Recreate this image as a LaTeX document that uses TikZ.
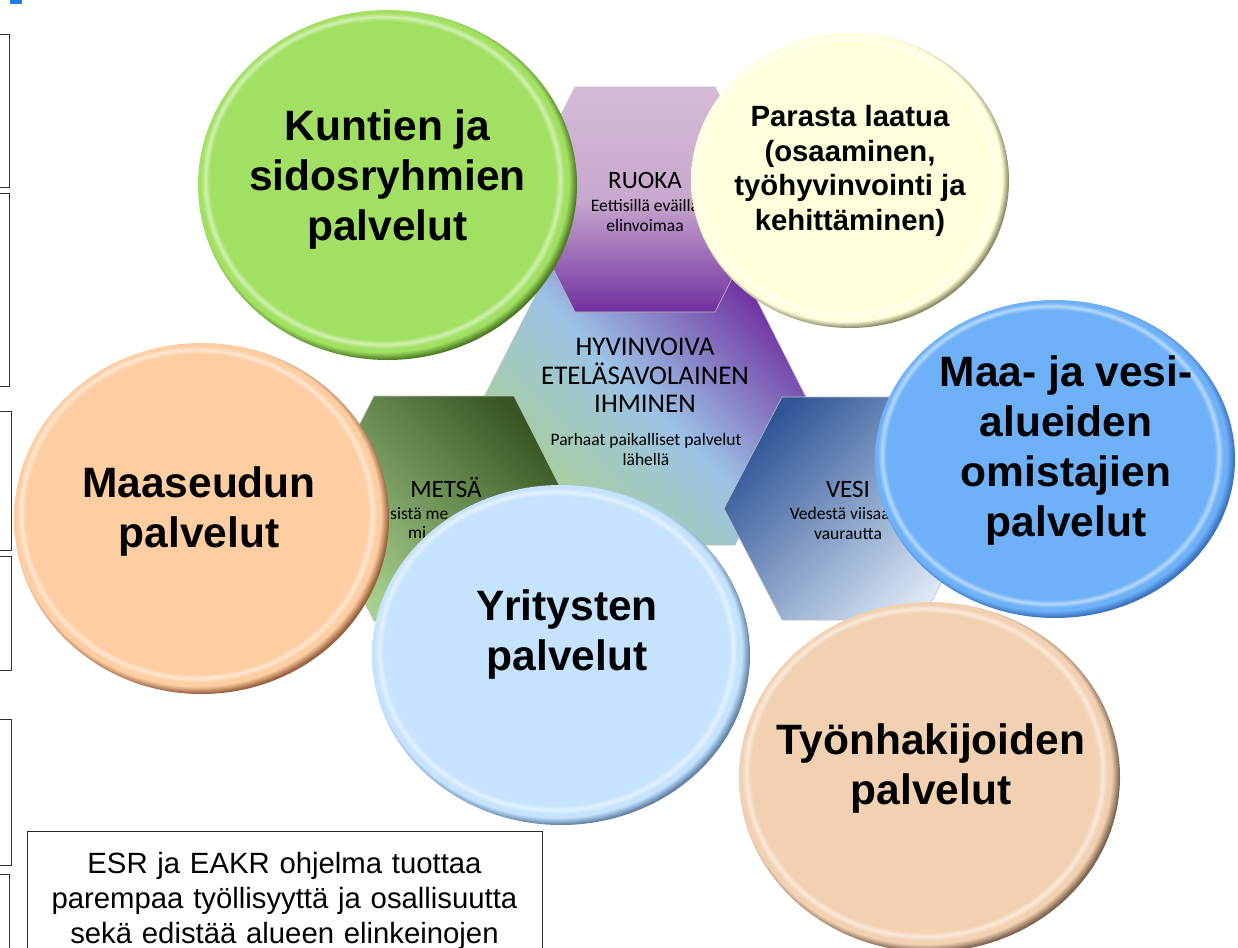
\documentclass[tikz,border=0pt]{standalone}
\usepackage{fontspec}
\setmainfont{Liberation Sans}
\newfontfamily\calibri{Carlito}
\usetikzlibrary{shapes.geometric}

\definecolor{kuntavihrea}{HTML}{A2E063}
\definecolor{kuntareuna}{HTML}{4E7D23}
\definecolor{laatukelta}{HTML}{FFFFDC}
\definecolor{laatureuna}{HTML}{8C8C66}
\definecolor{vesisininen}{HTML}{6EB1F8}
\definecolor{vesireuna}{HTML}{3A72BE}
\definecolor{maaseutupersikka}{HTML}{FECDA2}
\definecolor{maaseutureuna}{HTML}{98633E}
\definecolor{yrityssininen}{HTML}{C5E3FE}
\definecolor{yritysreuna}{HTML}{6485A8}
\definecolor{tyonhakubeige}{HTML}{F2D1B3}
\definecolor{tyonhakureuna}{HTML}{80674F}
\definecolor{ruokavaalea}{HTML}{D5BBD7}
\definecolor{ruokakeski}{HTML}{C8A8CE}
\definecolor{violetti}{HTML}{7030A0}
\definecolor{metsavaalea}{HTML}{A9D18E}
\definecolor{metsatumma}{HTML}{375623}
\definecolor{vesitumma}{HTML}{2F5597}
\definecolor{vesivaalea}{HTML}{DEEBF7}
\definecolor{ihminenvihrea}{HTML}{A9D18E}
\definecolor{ihminensininen}{HTML}{9DC3E6}
\definecolor{merkkisininen}{HTML}{1F7FE8}

\pgfdeclareradialshading[nappipohja,nappireuna]{nappi}{\pgfqpoint{-1.2bp}{1.2bp}}{%
  color(0bp)=(nappipohja); color(22.8bp)=(nappipohja);
  color(23.4bp)=(nappipohja!50!white); color(24bp)=(nappipohja);
  color(24.5bp)=(nappipohja); color(25.5bp)=(nappireuna); color(50bp)=(nappireuna)}

\tikzset{
  nappi/.style 2 args={ellipse, inner sep=0pt, shade, shading=nappi,
    /utils/exec={\colorlet{nappipohja}{#1}\colorlet{nappireuna}{#2}}},
  isoteksti/.style={align=center, inner sep=0pt, font=\bfseries\fontsize{42.5}{50}\selectfont},
  kuusikulmio/.style={draw=black!25, line width=.6pt},
  otsikko/.style={inner sep=0pt, font=\calibri\fontsize{25}{30}\selectfont},
  alateksti/.style={align=center, inner sep=0pt, font=\calibri\fontsize{17.5}{20}\selectfont}
}

\begin{document}
\begin{tikzpicture}[x=1pt,y=-1pt]
  \useasboundingbox (0,0) rectangle (1238,947);
  \clip (0,0) rectangle (1238,947);

  % laatikot vasemmassa reunassa
  \foreach \ya/\yb/\xr in {35/187/9, 193/386/9, 411/550/11, 556/670/11, 719/865/11, 874/960/9}
    \draw[black!80, line width=1pt] (-5,\ya) rectangle (\xr,\yb);
  \fill[merkkisininen] (10,0) rectangle (22,4);

  % kuusikulmiot
  \shade[kuusikulmio, top color=violetti, bottom color=ihminenvihrea, middle color=ihminensininen, shading angle=-45]
    (645,401) ++(-163,0) -- ++(73,-144) -- ++(180,0) -- ++(73,144) -- ++(-73,144) -- ++(-180,0) -- cycle;
  \shade[kuusikulmio, top color=ruokavaalea, bottom color=violetti, middle color=ruokakeski]
    (645,199.5) ++(-127,0) -- ++(57,-112.5) -- ++(140,0) -- ++(57,112.5) -- ++(-57,112.5) -- ++(-140,0) -- cycle;
  \shade[kuusikulmio, top color=metsatumma, bottom color=metsavaalea, shading angle=-45]
    (444,508.5) ++(-127,0) -- ++(57,-112.5) -- ++(140,0) -- ++(57,112.5) -- ++(-57,112.5) -- ++(-140,0) -- cycle;
  \shade[kuusikulmio, top color=vesitumma, bottom color=vesivaalea, shading angle=45]
    (852,508.5) ++(-128,0) -- ++(58,-111.5) -- ++(140,0) -- ++(58,111.5) -- ++(-58,111.5) -- ++(-140,0) -- cycle;

  \node[align=center, inner sep=0pt, font=\calibri\fontsize{27}{28.5}\selectfont] (ihminen) at (645,375.5) {HYVINVOIVA\\ETELÄSAVOLAINEN\\IHMINEN};
  \node[alateksti] (lahella) at (646,449.4) {Parhaat paikalliset palvelut\\lähellä};
  \node[otsikko] (ruoka) at (645,180) {RUOKA};
  \node[alateksti] (ruokateksti) at (645,215.4) {Eettisillä eväillä\\elinvoimaa};
  \node[otsikko] (metsa) at (446,488) {METSÄ};
  \node[alateksti, anchor=base west] (metsateksti) at (390,519.5) {sistä me};
  \node[alateksti, anchor=base west] (metsateksti2) at (408,538.5) {mi};
  \node[otsikko] (vesi) at (848,489) {VESI};
  \node[alateksti] (vesiteksti) at (848,523.4) {Vedestä viisaasti\\vaurautta};

  % palvelupallot
  \node[nappi={kuntavihrea}{kuntareuna}, minimum width=379pt, minimum height=350pt] (kunnat) at (387.5,185) {};
  \node[nappi={laatukelta}{laatureuna}, minimum width=318pt, minimum height=295pt] (laatu) at (850,180.5) {};
  \node[nappi={vesisininen}{vesireuna}, minimum width=360pt, minimum height=318pt] (maavesi) at (1055,459) {};
  \node[nappi={maaseutupersikka}{maaseutureuna}, minimum width=375pt, minimum height=351pt] (maaseutu) at (201.5,518.5) {};
  \node[nappi={yrityssininen}{yritysreuna}, minimum width=378pt, minimum height=340pt] (yritykset) at (561,655) {};
  \node[nappi={tyonhakubeige}{tyonhakureuna}, minimum width=381pt, minimum height=350pt] (tyonhakijat) at (929.5,777) {};

  \node[isoteksti] at (kunnat) [yshift=5.7pt] {Kuntien ja\\sidosryhmien\\palvelut};
  \node[align=center, inner sep=0pt, font=\bfseries\fontsize{29.3}{34.7}\selectfont] at (850,171) {Parasta laatua\\(osaaminen,\\työhyvinvointi ja\\kehittäminen)};
  \node[isoteksti] at (1066,450.8) {Maa- ja vesi-\\alueiden\\omistajien\\palvelut};
  \node[isoteksti] at (199,511.3) {Maaseudun\\palvelut};
  \node[isoteksti] at (567,634.8) {Yritysten\\palvelut};
  \node[isoteksti] at (931,768.8) {Työnhakijoiden\\palvelut};

  % ohjelmateksti
  \node[draw=black!85, line width=1pt, fill=white, anchor=north, align=center, text width=475pt,
    inner xsep=20pt, inner ysep=20.5pt, font=\fontsize{29.3}{35}\selectfont] (ohjelma) at (284.5,831)
    {ESR ja EAKR ohjelma tuottaa\\parempaa työllisyyttä ja osallisuutta\\sekä edistää alueen elinkeinojen};
\end{tikzpicture}
\end{document}
